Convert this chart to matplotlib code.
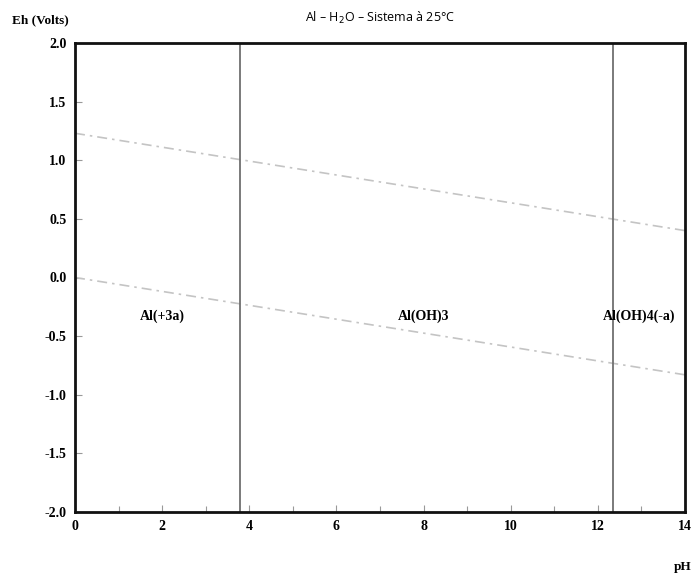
import numpy as np
import matplotlib
matplotlib.use("Agg")
import matplotlib.pyplot as plt
from matplotlib.ticker import MultipleLocator

# Data
ph_range = [0, 14]
upper_water = [1.23, 0.40]     # O2/H2O line Eh at pH 0 and 14
lower_water = [0.00, -0.83]    # H2/H2O line Eh at pH 0 and 14
boundaries_ph = [3.78, 12.35]  # vertical phase boundaries
region_labels = ["Al(+3a)", "Al(OH)3", "Al(OH)4(-a)"]
region_ph = [2.0, 8.0, 12.95]
region_eh = [-0.33, -0.33, -0.33]
x_ticks = [0, 2, 4, 6, 8, 10, 12, 14]
y_ticks = [-2.0, -1.5, -1.0, -0.5, 0.0, 0.5, 1.0, 1.5, 2.0]

fig = plt.figure(figsize=(7.0, 5.79), dpi=100)
ax = fig.add_axes([75/700, 1-512/579, 610/700, 469/579])

serif = dict(family="Liberation Serif", fontweight="bold")

ax.plot(ph_range, upper_water, color="#c4c4c4", lw=1.2, ls=(0, (6, 3, 1.5, 3)))
ax.plot(ph_range, lower_water, color="#c4c4c4", lw=1.2, ls=(0, (6, 3, 1.5, 3)))
for b in boundaries_ph:
    ax.axvline(b, color="#707070", lw=1.3)

for lab, x, y in zip(region_labels, region_ph, region_eh):
    ax.text(x, y, lab, ha="center", va="center", fontsize=10, **serif)

ax.set_xlim(0, 14)
ax.set_ylim(-2, 2)
ax.set_xticks(x_ticks)
ax.set_yticks(y_ticks)
ax.set_xticklabels([str(t) for t in x_ticks])
ax.set_yticklabels([f"{t:.1f}" for t in y_ticks])
ax.xaxis.set_minor_locator(MultipleLocator(1))
ax.tick_params(direction="in", length=5, width=0.8, color="#999999", labelsize=10, pad=6)
ax.tick_params(which="minor", direction="in", length=4, width=0.8, color="#999999")
for lbl in ax.get_xticklabels() + ax.get_yticklabels():
    lbl.set_fontfamily("Liberation Serif")
    lbl.set_fontweight("bold")
for s in ax.spines.values():
    s.set_linewidth(2.0)
    s.set_color("#111111")

fig.text(40/700, 1-20/579, "Eh (Volts)", ha="center", va="center", fontsize=9.5, **serif)
fig.text(683/700, 1-567/579, "pH", ha="center", va="center", fontsize=9.5, **serif)
fig.text(380/700, 1-18/579, "Al – H$_2$O – Sistema à 25°C", ha="center", va="center",
         fontsize=9, family="Open Sans")

fig.savefig("out.png", dpi=100, facecolor="white")
